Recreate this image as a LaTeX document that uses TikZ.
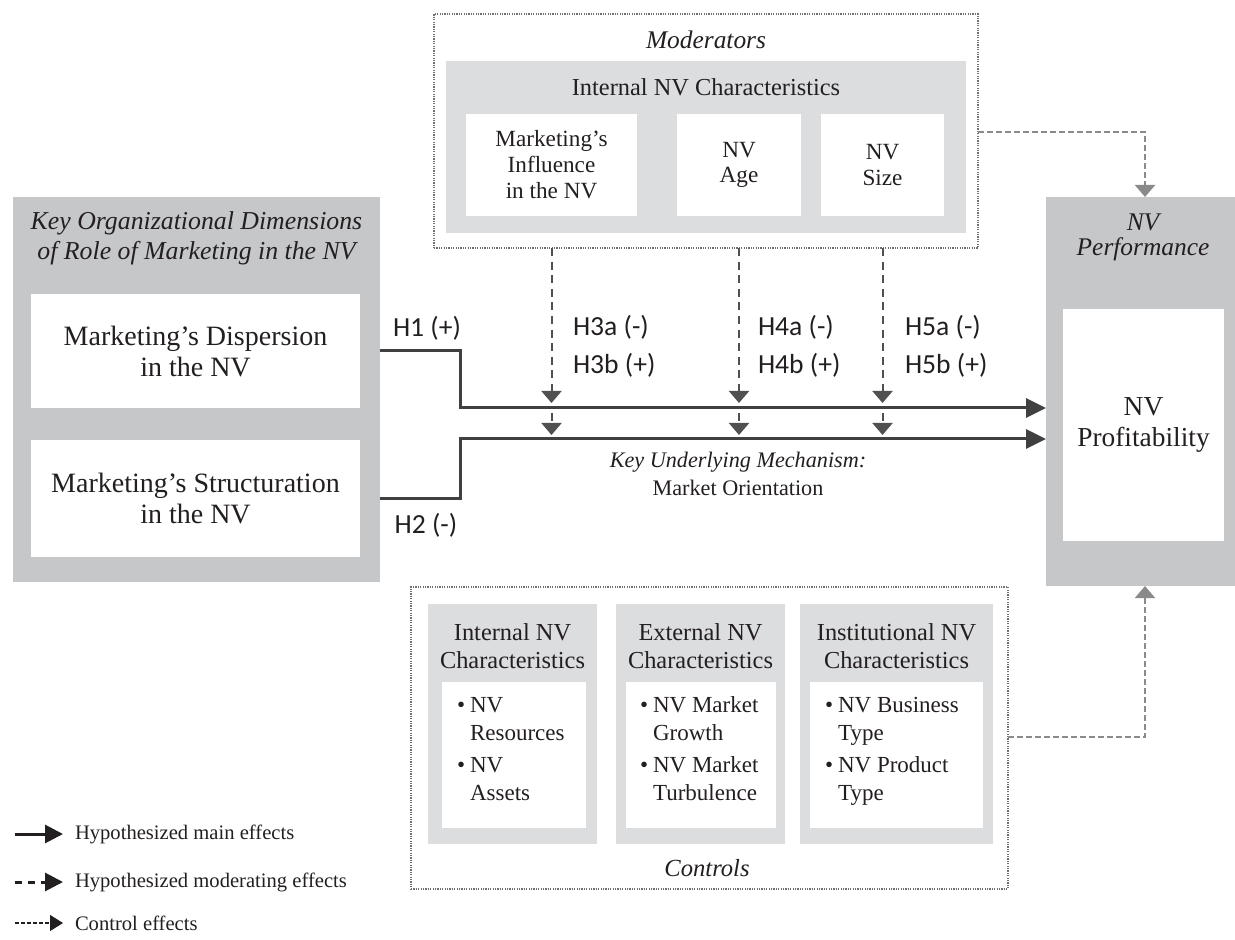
\documentclass[tikz,border=0pt]{standalone}
\usepackage{fontspec}
\setmainfont{Liberation Serif}
\newfontfamily\hfont{Carlito}
\usetikzlibrary{arrows.meta,calc}
\definecolor{txt}{HTML}{231F20}
\definecolor{gdark}{HTML}{C6C7C9}
\definecolor{glight}{HTML}{DCDDDF}
\definecolor{linec}{HTML}{404040}
\definecolor{modc}{HTML}{505050}
\definecolor{ctrlc}{HTML}{8A8A8A}
\definecolor{dotc}{HTML}{707070}
\newcommand\fsz[2]{\fontsize{#1}{#2}\selectfont}
\begin{document}
\begin{tikzpicture}[x=0.5pt,y=-0.5pt,
  every node/.style={text=txt, inner sep=0pt, outer sep=0pt},
  darkbox/.style={fill=gdark, draw=none},
  lightbox/.style={fill=glight, draw=none},
  whitebox/.style={fill=white, draw=none},
  dotbox/.style={draw=dotc, line width=0.9pt, dash pattern=on 0.6pt off 0.6pt, fill=white},
  mainarrow/.style={draw=linec, line width=1.5pt, -{Triangle[length=10pt,width=9.5pt]}},
  modarrow/.style={draw=modc, line width=1pt, dash pattern=on 4pt off 2.8pt, -{Triangle[length=6pt,width=10pt]}},
  ctrlarrow/.style={draw=ctrlc, line width=1pt, dash pattern=on 3pt off 1.5pt, -{Triangle[length=6pt,width=10pt]}},
  hlabel/.style={font=\hfont\fsz{13.8}{16}},
  legtext/.style={font=\fsz{10.3}{12}, anchor=west},
]
\useasboundingbox (0,0) rectangle (1235,940);

% ---------- left block ----------
\node[darkbox, minimum width=183.5pt, minimum height=192.5pt] (key) at (196.5,389.5) {};
\node[align=center, font=\itshape\fsz{12.9}{15}] (keyt) at (196.5,238) {Key Organizational Dimensions\\of Role of Marketing in the NV};
\node[whitebox, minimum width=164.5pt, minimum height=57pt, align=center, font=\fsz{14}{15.5}] (disp) at (195.5,351) {Marketing’s Dispersion\\in the NV};
\node[whitebox, minimum width=164.5pt, minimum height=58.5pt, align=center, font=\fsz{14}{15.5}] (struc) at (195.5,498.5) {Marketing’s Structuration\\in the NV};

% ---------- moderators ----------
\node[dotbox, minimum width=272pt, minimum height=117pt] (mod) at (706,131) {};
\node[font=\itshape\fsz{12.7}{14}] (modt) at (706,40) {Moderators};
\node[lightbox, minimum width=260pt, minimum height=86pt] (modg) at (706,147) {};
\node[font=\fsz{12.2}{14}] (modgt) at (706,87) {Internal NV Characteristics};
\node[whitebox, minimum width=85.5pt, minimum height=51pt, align=center, font=\fsz{11.6}{13}] (infl) at (551.5,165) {Marketing’s\\Influence\\in the NV};
\node[whitebox, minimum width=62pt, minimum height=51pt, align=center, font=\fsz{11.6}{12.8}] (age) at (739,165) {NV\\Age};
\node[whitebox, minimum width=61.5pt, minimum height=51pt, align=center, font=\fsz{11.6}{12.8}] (size) at (882.5,165) {NV\\Size};

% ---------- performance ----------
\node[darkbox, minimum width=94.5pt, minimum height=194.5pt] (perf) at (1140.5,391.5) {};
\node[align=center, font=\itshape\fsz{12.7}{12.5}] (perft) at (1143,237) {NV\\Performance};
\node[whitebox, minimum width=80.5pt, minimum height=116pt, align=center, font=\fsz{13.7}{15.5}] (prof) at (1143.5,425) {NV\\Profitability};

% ---------- controls ----------
\node[dotbox, minimum width=298.5pt, minimum height=151pt] (ctrl) at (709.5,738) {};
\node[lightbox, minimum width=84.5pt, minimum height=120pt] (cint) at (512.5,724) {};
\node[lightbox, minimum width=84.5pt, minimum height=120pt] (cext) at (700.5,724) {};
\node[lightbox, minimum width=96.5pt, minimum height=120pt] (cinst) at (896.5,724) {};
\node[align=center, font=\fsz{12.2}{14}] (cintt) at (512.5,646) {Internal NV\\Characteristics};
\node[align=center, font=\fsz{12.2}{14}] (cextt) at (700.5,646) {External NV\\Characteristics};
\node[align=center, font=\fsz{12.2}{14}] (cinstt) at (896.5,646) {Institutional NV\\Characteristics};
\node[whitebox, minimum width=72pt, minimum height=73pt] (wint) at (514,755) {};
\node[whitebox, minimum width=75pt, minimum height=73pt] (wext) at (701,755) {};
\node[whitebox, minimum width=86.5pt, minimum height=73pt] (winst) at (896.5,755) {};
\node[anchor=west, font=\fsz{11.5}{14}] (bint) at (457,751)
  {\begin{tabular}{@{}l@{\hspace{2.5pt}}l@{}}\textbullet & NV\\ & Resources\\[2pt]\textbullet & NV\\ & Assets\end{tabular}};
\node[anchor=west, font=\fsz{11.5}{14}] (bext) at (640,751)
  {\begin{tabular}{@{}l@{\hspace{2.5pt}}l@{}}\textbullet & NV Market\\ & Growth\\[2pt]\textbullet & NV Market\\ & Turbulence\end{tabular}};
\node[anchor=west, font=\fsz{11.5}{14}] (binst) at (825,751)
  {\begin{tabular}{@{}l@{\hspace{2.5pt}}l@{}}\textbullet & NV Business\\ & Type\\[2pt]\textbullet & NV Product\\ & Type\end{tabular}};
\node[font=\itshape\fsz{12.3}{14}] (ctrlt) at (707,868) {Controls};

% ---------- main effects ----------
\coordinate (drop1) at (460,408);
\coordinate (drop2) at (460,439);
\draw[mainarrow] (disp.east -| key.east) -| (drop1) -- (drop1 -| perf.west);
\draw[mainarrow] (struc.east -| key.east) -| (drop2) -- (drop2 -| perf.west);
\node[hlabel] (h1) at (427,328) {H1 (+)};
\node[hlabel] (h2) at (426,525) {H2 (-)};

% ---------- moderating effects ----------
\foreach \n in {infl,age,size}{
  \draw[modarrow] (\n.south |- mod.south) -- (\n.south |- 0,403);
  \draw[modarrow] (\n.south |- 0,413) -- (\n.south |- 0,435);
}
\node[hlabel, anchor=west] (h3a) at (573,327) {H3a (-)};
\node[hlabel, anchor=west] (h3b) at (573,365) {H3b (+)};
\node[hlabel, anchor=west] (h4a) at (758,327) {H4a (-)};
\node[hlabel, anchor=west] (h4b) at (758,365) {H4b (+)};
\node[hlabel, anchor=west] (h5a) at (905,327) {H5a (-)};
\node[hlabel, anchor=west] (h5b) at (905,365) {H5b (+)};
\node[align=center, font=\fsz{11.1}{14}] (mech) at (738,474) {\textit{Key Underlying Mechanism:}\\Market Orientation};

% ---------- control effects ----------
\coordinate (cc1) at (1145,132);
\coordinate (cc2) at (1145,737);
\draw[ctrlarrow] (mod.east |- cc1) -- (cc1) -- (cc1 |- perf.north);
\draw[ctrlarrow] (ctrl.east |- cc2) -- (cc2) -- (cc2 |- perf.south);

% ---------- legend ----------
\coordinate (l1a) at (15,834); \coordinate (l1b) at (63,834);
\coordinate (l2a) at (15,882); \coordinate (l2b) at (63,882);
\coordinate (l3a) at (15,923); \coordinate (l3b) at (63,923);
\draw[txt, line width=1.5pt, -{Triangle[length=9pt,width=9pt]}] (l1a) -- (l1b);
\draw[txt, line width=1.5pt, dash pattern=on 3.5pt off 3pt, -{Triangle[length=9pt,width=9pt]}] (l2a) -- (l2b);
\draw[txt, line width=0.7pt, dash pattern=on 2pt off 1pt, -{Triangle[length=6.5pt,width=8pt]}] (l3a) -- (l3b);
\node[legtext] (lt1) at (75,834) {Hypothesized main effects};
\node[legtext] (lt2) at (75,882) {Hypothesized moderating effects};
\node[legtext] (lt3) at (75,923) {Control effects};
\end{tikzpicture}
\end{document}
